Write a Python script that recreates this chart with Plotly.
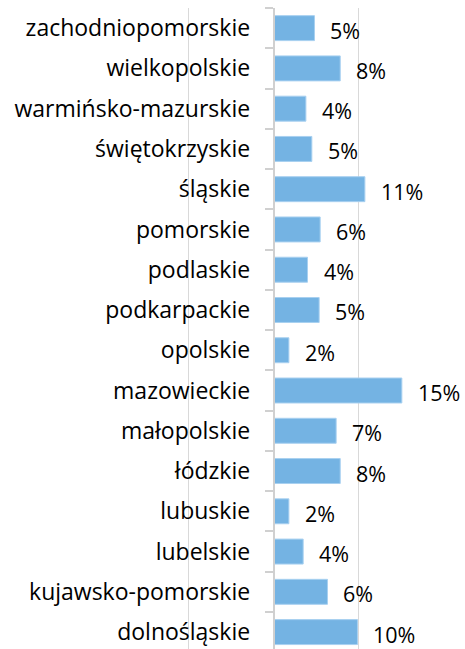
import plotly.graph_objects as go

categories = ["dolnośląskie", "kujawsko-pomorskie", "lubelskie", "lubuskie", "łódzkie",
              "małopolskie", "mazowieckie", "opolskie", "podkarpackie", "podlaskie",
              "pomorskie", "śląskie", "świętokrzyskie", "warmińsko-mazurskie",
              "wielkopolskie", "zachodniopomorskie"]
values = [9.88, 6.35, 3.49, 1.81, 7.85, 7.37, 15.1, 1.81, 5.37, 4.0,
          5.49, 10.75, 4.51, 3.81, 7.85, 4.82]
labels = ["10%", "6%", "4%", "2%", "8%", "7%", "15%", "2%", "5%", "4%",
          "6%", "11%", "5%", "4%", "8%", "5%"]
grid_ticks = [-10, 0, 10]

FONT = "Open Sans"
fig = go.Figure()
fig.add_trace(go.Bar(
    x=values, y=categories, orientation="h",
    marker=dict(color="#74b3e3", line=dict(color="#a8d0f0", width=1)),
    width=0.62, hoverinfo="skip",
))
for c, v, t in zip(categories, values, labels):
    fig.add_annotation(x=v, y=c, text=t, showarrow=False, xanchor="left",
                       xshift=14, yshift=-2, font=dict(family=FONT, size=21.5, color="#000000"))

fig.update_layout(
    width=465, height=649,
    margin=dict(l=180, r=30, t=8, b=0),
    plot_bgcolor="white", paper_bgcolor="white",
    showlegend=False,
    xaxis=dict(range=[-11, 19], tickvals=grid_ticks, showticklabels=False,
               showgrid=True, gridcolor="#d9d9d9", gridwidth=1, zeroline=False,
               showline=False, fixedrange=True),
    yaxis=dict(type="category", categoryorder="array", categoryarray=categories,
               range=[-0.42, 15.5], anchor="free", position=11/30,
               showline=True, linecolor="#d0d0d0", linewidth=1.5,
               ticks="outside", tickson="boundaries", ticklen=8, tickcolor="#d0d0d0",
               tickwidth=1.5, ticklabelstandoff=18, showgrid=False, automargin=False,
               tickfont=dict(family=FONT, size=23, color="#000000")),
)
fig.write_html("out.html", config={"displayModeBar": False},
               post_script="document.body.style.margin='0';")
